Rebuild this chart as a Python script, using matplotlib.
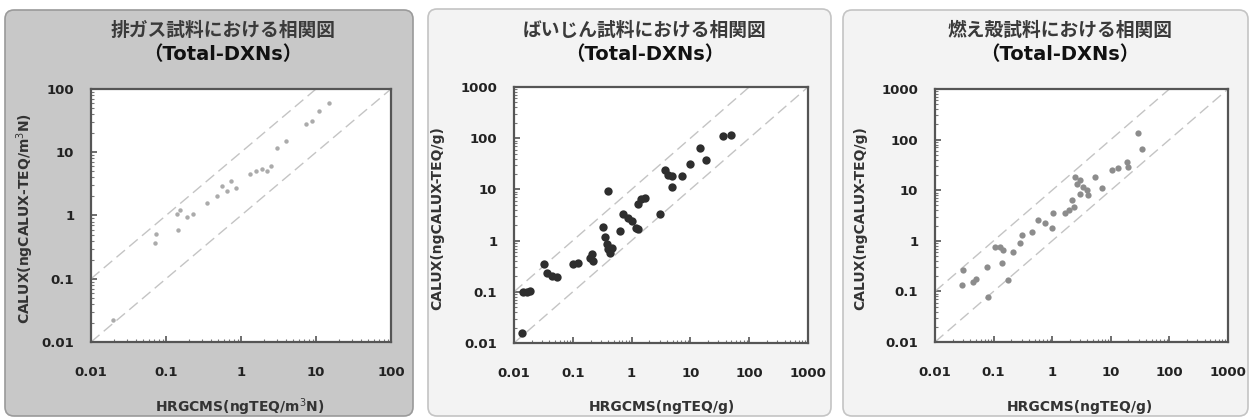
import numpy as np
import matplotlib
matplotlib.use('Agg')
from matplotlib import pyplot as plt
from matplotlib.patches import FancyBboxPatch
from matplotlib.ticker import LogLocator, FixedLocator, NullFormatter

plt.rcParams['font.family'] = ['DejaVu Sans']

# exhaust gas samples
hr_gas = [0.0196, 0.0709, 0.0746, 0.139, 0.143, 0.152, 0.189, 0.227, 0.348, 0.472,
          0.55, 0.645, 0.745, 0.87, 1.3, 1.6, 1.9, 2.2, 2.5, 3.0, 4.0, 7.4, 8.9, 11, 15]
ca_gas = [0.022, 0.362, 0.515, 1.07, 0.58, 1.2, 0.93, 1.07, 1.55, 2.07,
          2.96, 2.47, 3.55, 2.75, 4.5, 5.0, 5.5, 5.0, 6.0, 11.8, 15, 28, 31, 45, 60]

# fly ash samples
hr_ash = [0.0135, 0.0144, 0.0164, 0.0187, 0.0327, 0.036, 0.0437, 0.053, 0.102, 0.124,
          0.194, 0.208, 0.22, 0.33, 0.35, 0.38, 0.40, 0.46, 0.43, 0.39,
          0.63, 0.72, 0.88, 1.0, 1.2, 1.29, 1.29, 1.47, 1.67, 3.03,
          3.7, 4.2, 4.8, 7.1, 4.8, 9.8, 14.5, 18.6, 36, 50]
ca_ash = [0.0155, 0.1, 0.1, 0.105, 0.344, 0.229, 0.204, 0.195, 0.35, 0.37,
          0.46, 0.54, 0.4, 1.87, 1.15, 0.85, 0.68, 0.73, 0.58, 9.4,
          1.54, 3.26, 2.8, 2.4, 1.78, 1.66, 5.1, 6.4, 6.9, 3.26,
          24, 19.5, 18.2, 18.2, 11, 32, 63, 37, 110, 115]

# bottom ash samples
hr_cin = [0.0286, 0.0304, 0.045, 0.051, 0.076, 0.081, 0.107, 0.13, 0.138, 0.147,
          0.178, 0.218, 0.28, 0.3, 0.45, 0.58, 0.75, 0.98, 1.04, 1.66,
          1.9, 2.18, 2.33, 2.45, 2.6, 2.97, 3.4, 3.9, 4.15, 2.97,
          5.4, 7.0, 10.4, 13.5, 18.7, 20, 29.5, 33.8]
ca_cin = [0.134, 0.265, 0.155, 0.174, 0.31, 0.079, 0.76, 0.76, 0.36, 0.66,
          0.17, 0.6, 0.89, 1.3, 1.51, 2.57, 2.23, 1.78, 3.5, 3.5,
          4.07, 6.4, 4.7, 18.4, 13.5, 15.7, 11.7, 10, 8, 8.6,
          18.4, 11, 25, 27, 36, 29, 132, 64]

titles = ['排ガス試料における相関図', 'ばいじん試料における相関図', '燃え殻試料における相関図']
subtitle = '（Total-DXNs）'
xlabels = ['HRGCMS(ngTEQ/m$^3$N)', 'HRGCMS(ngTEQ/g)', 'HRGCMS(ngTEQ/g)']
ylabels = ['CALUX(ngCALUX-TEQ/m$^3$N)', 'CALUX(ngCALUX-TEQ/g)', 'CALUX(ngCALUX-TEQ/g)']
upper = [100, 1000, 1000]

W, H = 1255, 419
fig = plt.figure(figsize=(W / 100, H / 100), dpi=100)

# background panels drawn in pixel coordinates
bg = fig.add_axes([0, 0, 1, 1], zorder=-5)
bg.set_xlim(0, W)
bg.set_ylim(H, 0)
bg.axis('off')
boxes = [(5, 10, 408, 406, '#c8c8c8', '#9a9a9a'),
         (428, 9, 403, 407, '#f3f3f3', '#c4c4c4'),
         (843, 10, 405, 406, '#f3f3f3', '#c4c4c4')]
for x0, y0, bw, bh, fc, ec in boxes:
    bg.add_patch(FancyBboxPatch((x0, y0), bw, bh, boxstyle='round,pad=0,rounding_size=9',
                                facecolor=fc, edgecolor=ec, linewidth=1.2))

# plot areas in pixels: left, top, right, bottom
areas = [(91, 89, 391, 342), (514, 87, 808, 343), (935, 89, 1228, 342)]
title_x = [223, 645, 1060]
xlabel_x = [240, 662, 1080]
ylabel_x = [25, 437, 860]

data = [(hr_gas, ca_gas, '#ababab', 3.2), (hr_ash, ca_ash, '#2e2e2e', 6.0),
        (hr_cin, ca_cin, '#8c8c8c', 4.5)]

for i in range(3):
    l, t, r, b = areas[i]
    ax = fig.add_axes([l / W, 1 - b / H, (r - l) / W, (b - t) / H])
    ax.set_facecolor('white')
    ax.set_xscale('log')
    ax.set_yscale('log')
    lo, hi = 0.01, upper[i]
    ax.set_xlim(lo, hi)
    ax.set_ylim(lo, hi)

    # y = 10x and y = x guide lines
    xs = np.array([lo, hi])
    ax.plot(xs, xs * 10, color='#c4c4c4', lw=1.0, dashes=(8, 4))
    ax.plot(xs, xs, color='#c4c4c4', lw=1.0, dashes=(8, 4))

    hx, cy, col, ms = data[i]
    ax.plot(hx, cy, linestyle='none', marker='o', color=col, markersize=ms,
            markeredgewidth=0)

    for s in ax.spines.values():
        s.set_color('#555555')
        s.set_linewidth(1.6)

    ticks = [10.0 ** k for k in range(-2, int(np.log10(hi)) + 1)]
    labels = ['%g' % v for v in ticks]
    ax.xaxis.set_major_locator(FixedLocator(ticks))
    ax.yaxis.set_major_locator(FixedLocator(ticks))
    ax.set_xticklabels(labels)
    ax.set_yticklabels(labels)
    ax.xaxis.set_minor_locator(LogLocator(base=10, subs=np.arange(2, 10)))
    ax.yaxis.set_minor_locator(LogLocator(base=10, subs=np.arange(2, 10)))
    ax.xaxis.set_minor_formatter(NullFormatter())
    ax.yaxis.set_minor_formatter(NullFormatter())
    ax.tick_params(which='major', direction='in', length=4, width=1.2, color='#555555',
                   labelsize=9.5, top=False, right=False)
    ax.tick_params(which='minor', direction='in', length=2, width=0.8, color='#777777',
                   top=False, right=False)
    ax.tick_params(axis='x', which='major', pad=17)
    ax.tick_params(axis='y', which='major', pad=12)
    for lab in ax.get_xticklabels() + ax.get_yticklabels():
        lab.set_fontweight('bold')
        lab.set_color('#222222')

    fig.text(title_x[i] / W, 1 - 30 / H, titles[i], ha='center', va='center',
             fontsize=13.5, fontweight='bold', color='#3a3a3a',
             family=['Noto Sans CJK JP', 'DejaVu Sans'])
    fig.text(title_x[i] / W, 1 - 55 / H, subtitle, ha='center', va='center',
             fontsize=14, fontweight='bold', color='#111111',
             family=['DejaVu Sans', 'Noto Sans CJK JP'])
    fig.text(xlabel_x[i] / W, 1 - 407 / H, xlabels[i], ha='center', va='center',
             fontsize=10, fontweight='bold', color='#333333')
    fig.text(ylabel_x[i] / W, 1 - 218 / H, ylabels[i], ha='center', va='center',
             rotation=90, fontsize=10, fontweight='bold', color='#333333')

fig.savefig('out.png', dpi=100, facecolor='white')
